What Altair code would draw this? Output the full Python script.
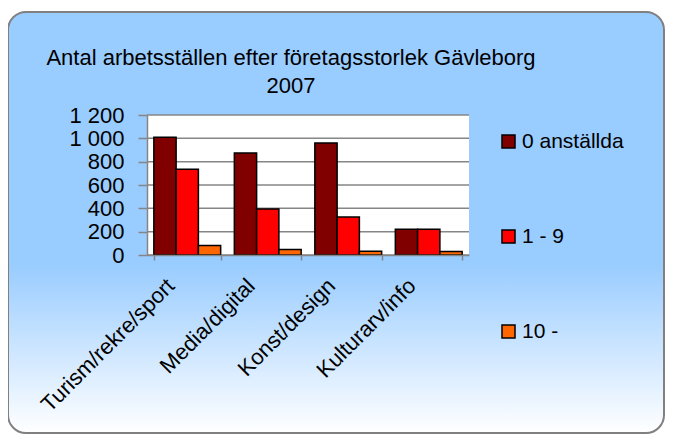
import altair as alt
import pandas as pd

categories = ["Turism/rekre/sport", "Media/digital", "Konst/design", "Kulturarv/info"]
series = ["0 anställda", "1 - 9", "10 -"]
vals_0 = [1010, 875, 960, 220]
vals_1 = [735, 395, 325, 220]
vals_10 = [82, 47, 33, 30]
y_ticks = [0, 200, 400, 600, 800, 1000, 1200]
colors = ["#800000", "#FF0000", "#FF6600"]
title_lines = ["Antal arbetsställen efter företagsstorlek Gävleborg", "2007"]

rows = []
for s, vals in zip(series, [vals_0, vals_1, vals_10]):
    for c, v in zip(categories, vals):
        rows.append({"kategori": c, "serie": s, "antal": v})
df = pd.DataFrame(rows)
grid_df = pd.DataFrame({"t": y_ticks})

W, H = 322, 140
FONT = "Liberation Sans"

yscale = alt.Scale(domain=[0, 1200], nice=False)
yaxis = alt.Axis(
    title=None, values=y_ticks, grid=False,
    labelExpr="replace(format(datum.value, ','), ',', ' ')",
    labelFontSize=22, labelFont=FONT, labelColor="black",
    tickSize=9, tickColor="#868686", tickWidth=1.5,
    domainColor="#868686", domainWidth=1.5, labelPadding=14, zindex=1,
)

bg = alt.Chart(pd.DataFrame({"a": [0]})).mark_rect(
    color=alt.Gradient(
        gradient="linear",
        stops=[
            alt.GradientStop(color="#99CCFF", offset=0),
            alt.GradientStop(color="#99CCFF", offset=0.6),
            alt.GradientStop(color="#FFFFFF", offset=1),
        ],
        x1=0, x2=0, y1=0, y2=1,
    ),
    cornerRadius=18,
    stroke="#808080",
    strokeWidth=2,
).encode(
    x=alt.value(-139), x2=alt.value(517), y=alt.value(-103), y2=alt.value(318)
)

plotbg = alt.Chart(pd.DataFrame({"a": [0]})).mark_rect(color="white").encode(
    x=alt.value(0), x2=alt.value(W), y=alt.value(0), y2=alt.value(H)
)

grid = alt.Chart(grid_df).mark_rule(color="#868686", strokeWidth=1.5).encode(
    y=alt.Y("t:Q", scale=yscale, axis=yaxis),
    x=alt.value(0), x2=alt.value(W),
)

title = alt.Chart(pd.DataFrame({"a": [0]})).mark_text(
    font=FONT, fontSize=22, color="black", align="center", baseline="alphabetic",
    lineHeight=28,
).encode(
    text=alt.value(title_lines), x=alt.value(144), y=alt.value(-50)
)

bars = alt.Chart(df).mark_bar(stroke="black", strokeWidth=1.5).encode(
    x=alt.X(
        "kategori:N",
        sort=categories,
        scale=alt.Scale(paddingInner=0.17, paddingOuter=0.085),
        axis=alt.Axis(
            title=None, labelAngle=-45, labelAlign="right", labelBaseline="middle",
            labelFontSize=22, labelFont=FONT, labelColor="black",
            tickBand="extent", tickSize=5, tickColor="#868686", tickWidth=1.5,
            domainColor="#868686", domainWidth=1.5, labelPadding=22, labelOffset=-17,
            zindex=1,
        ),
    ),
    xOffset=alt.XOffset("serie:N", sort=series, scale=alt.Scale(paddingInner=0, paddingOuter=0)),
    y=alt.Y("antal:Q", scale=yscale, axis=yaxis),
    color=alt.Color(
        "serie:N",
        sort=series,
        scale=alt.Scale(domain=series, range=colors),
        legend=alt.Legend(
            title=None, orient="none", legendX=351, legendY=16,
            symbolType="square", symbolSize=169, symbolStrokeColor="black",
            symbolStrokeWidth=1.5, symbolOpacity=1,
            labelFontSize=21, labelFont=FONT, labelColor="black",
            rowPadding=73, padding=0, labelOffset=3,
        ),
    ),
)

chart = alt.layer(bg, plotbg, grid, bars, title).properties(
    width=W,
    height=H,
    autosize=alt.AutoSizeParams(type="none"),
    padding={"left": 139, "top": 107, "right": 196, "bottom": 182},
    background="white",
).configure_view(stroke=None)

chart.save("out.html", embed_options={"renderer": "svg", "actions": False})
